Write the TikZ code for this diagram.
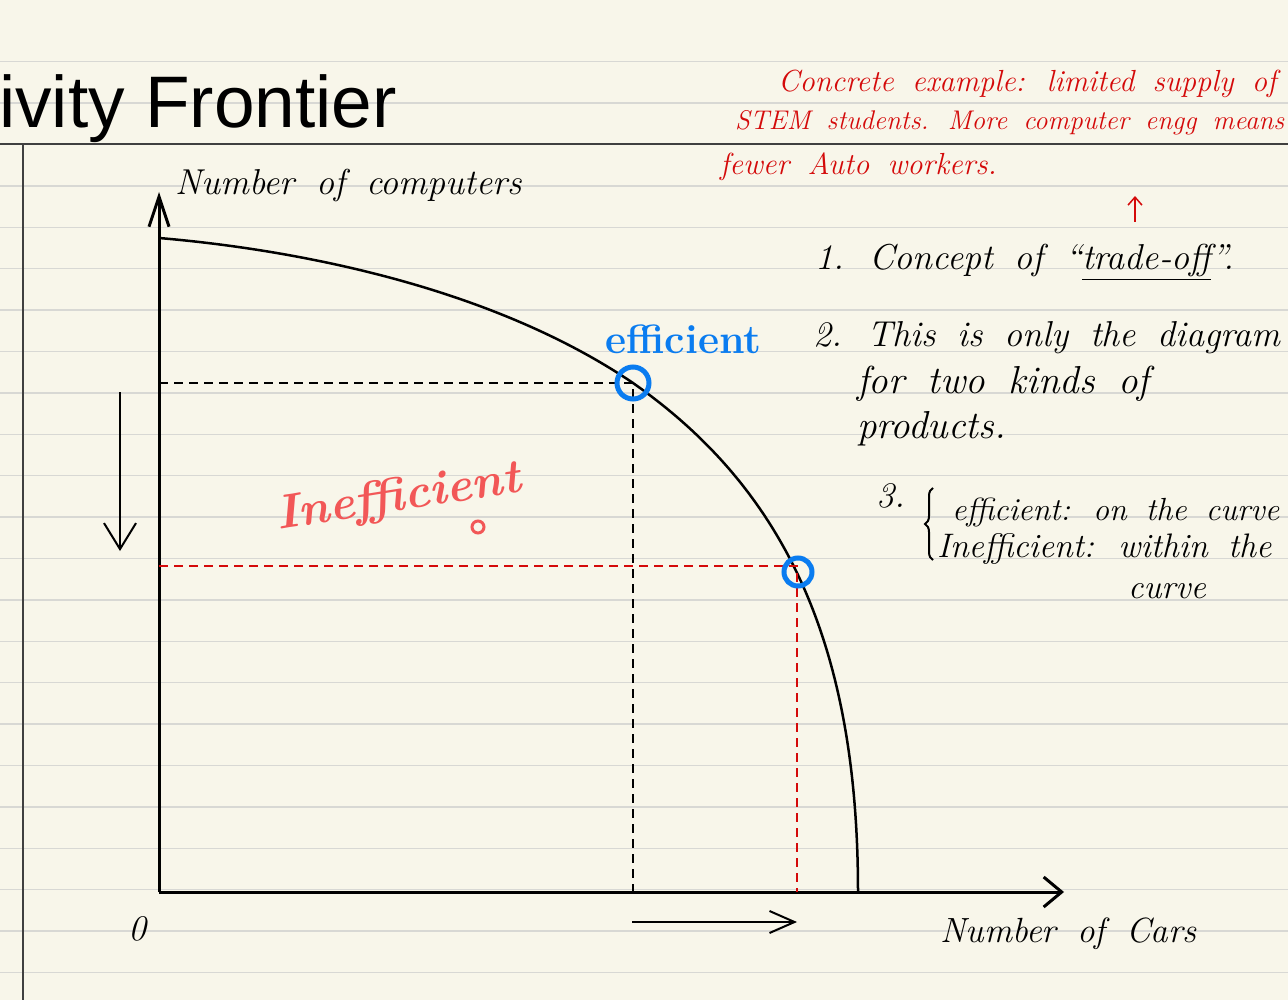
\documentclass[tikz,border=0pt]{standalone}
\usepackage{fontspec}
\newfontfamily\titlefont{Liberation Sans}
\usetikzlibrary{arrows.meta,decorations.pathreplacing}
\definecolor{paper}{HTML}{F8F6EA}
\definecolor{ruling}{HTML}{D8D8D4}
\definecolor{notered}{HTML}{D40A0A}
\definecolor{salmon}{HTML}{F25757}
\definecolor{penblue}{HTML}{0A7CF0}
\newcommand\handsize[1]{\itshape\fontsize{#1}{#1}\selectfont\spaceskip=0.6em\relax}

\begin{document}
\begin{tikzpicture}[x=1pt, y=-1pt,
    axis/.style={line width=3pt},
    guide/.style={line width=2pt, dash pattern=on 9pt off 6pt},
    hand/.style={font=\handsize{36}, anchor=base west, inner sep=0pt},
    redhand/.style={hand, text=notered, font=\handsize{30.5}},
    penmark/.style={circle, draw=penblue, line width=5pt, inner sep=0pt}
]
    % Paper
    \fill[paper] (0,0) rectangle (1288,1000);
    \useasboundingbox (0,0) rectangle (1288,1000);
    \foreach \k in {0,...,22}
        \draw[ruling, line width=1.5pt] (0,61.7+41.4*\k) -- (1288,61.7+41.4*\k);
    \draw[black!75, line width=1.5pt] (0,144) -- (1288,144);
    \draw[black!75, line width=1.5pt] (23,144) -- (23,1000);

    % Title
    \node[anchor=base west, inner sep=0pt, font=\titlefont\fontsize{73}{80}\selectfont] (title) at (-1,128) {ivity Frontier};

    % Axes
    \coordinate (O) at (159,892);
    \coordinate (ytip) at (159,192);
    \coordinate (xtip) at (1064,892);
    \draw[axis, -{Straight Barb[length=30pt, width=20pt]}] (O) -- (ytip);
    \draw[axis, -{Straight Barb[length=18pt, width=30pt]}] (O) -- (xtip);

    % Frontier
    \coordinate (ystart) at (159,238);
    \coordinate (xend) at (858,892);
    \coordinate (E) at (633,383);
    \coordinate (F) at (797,566);
    \draw[line width=2.5pt] (ystart) .. controls (300,250) and (493,288) .. (E)
        .. controls (783,488) and (858,642) .. (xend);

    % Points on the curve
    \draw[guide] (O |- E) -- (E) -- (E |- O);
    \draw[guide, notered] (O |- F) -- (F) -- (F |- O);
    \node[penmark, minimum size=32pt] (effpt) at (E) {};
    \node[penmark, minimum size=28pt] (infpt) at (798,572) {};
    \node[anchor=base west, inner sep=0pt, text=penblue, font=\bfseries\fontsize{41}{44}\selectfont] (efflabel) at (605,353) {efficient};

    % Inefficient region
    \node[anchor=base west, inner sep=0pt, text=salmon, rotate=9, font=\bfseries\itshape\fontsize{48}{54}\selectfont] (ineff) at (278,530) {Inefficient};
    \node[circle, draw=salmon, line width=3pt, minimum size=12pt, inner sep=0pt] (dot) at (478,527) {};

    % Direction arrows
    \coordinate (dtop) at (120,392);
    \coordinate (dbot) at (120,551);
    \coordinate (rleft) at (632,922);
    \coordinate (rright) at (797,922);
    \draw[line width=2pt, -{Straight Barb[length=26pt, width=32pt]}] (dtop) -- (dbot);
    \draw[line width=2pt, -{Straight Barb[length=25pt, width=22pt]}] (rleft) -- (rright);

    % Axis labels
    \node[hand] (ylab) at (175,195) {Number of computers};
    \node[hand, font=\handsize{35}] (xlab) at (940,942) {Number of Cars};
    \node[hand] (zero) at (128,940) {0};

    % Notes
    \node[hand] (n1) at (815,270) {1. Concept of ``\underline{trade-off}''.};
    \node[hand] (n2a) at (813,347) {2. This is only the diagram};
    \node[hand, font=\handsize{39}] (n2b) at (857,393) {for two kinds of};
    \node[hand, font=\handsize{39}] (n2c) at (857,438) {products.};
    \node[hand] (n3) at (876,507) {3.};
    \coordinate (bbot) at (933,560);
    \coordinate (btop) at (933,488);
    \draw[line width=2pt, decorate, decoration={brace, amplitude=8pt}] (bbot) -- (btop);
    \node[hand, font=\handsize{32}] (n3a) at (952,520) {efficient: on the curve};
    \node[hand, font=\handsize{34}] (n3b) at (937,557) {Inefficient: within the};
    \node[hand, font=\handsize{34}] (n3c) at (1128,598) {curve};

    % Red notes
    \node[redhand] (r1) at (778,92) {Concrete example: limited supply of};
    \node[redhand, font=\handsize{27}] (r2) at (735,130) {STEM students. More computer engg means};
    \node[redhand] (r3) at (720,175) {fewer Auto workers.};
    \coordinate (ubot) at (1135,222);
    \coordinate (utop) at (1135,196);
    \draw[notered, line width=1.5pt, -{Straight Barb[length=8pt, width=14pt]}] (ubot) -- (utop);

\end{tikzpicture}
\end{document}
